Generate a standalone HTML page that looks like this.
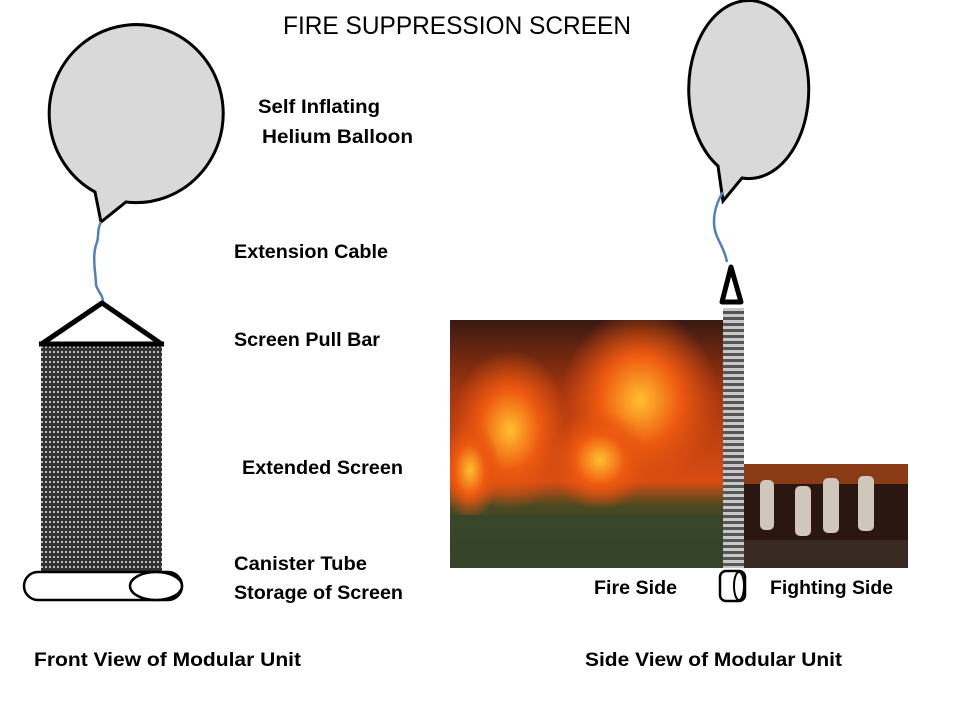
<!DOCTYPE html>
<html><head><meta charset="utf-8"><style>
html,body{margin:0;padding:0;background:#fff;width:960px;height:720px;overflow:hidden}
text{font-family:"Liberation Sans",sans-serif;font-weight:bold;fill:#000}
</style></head><body>
<svg width="960" height="720" viewBox="0 0 960 720" xmlns="http://www.w3.org/2000/svg">
<defs>
<pattern id="mesh" width="4" height="5" patternUnits="userSpaceOnUse">
<rect width="4" height="5" fill="#333"/><rect x="1" y="1" width="2" height="2" fill="#bbb"/>
</pattern>
<pattern id="mesh2" width="23" height="6" patternUnits="userSpaceOnUse">
<rect width="23" height="6" fill="#555"/><rect y="2" width="23" height="3" fill="#c8c8c8"/>
</pattern>
<radialGradient id="f1" cx="0.5" cy="0.5" r="0.5"><stop offset="0" stop-color="#ffc030"/><stop offset="0.5" stop-color="#ee5a10"/><stop offset="1" stop-color="#e05010" stop-opacity="0"/></radialGradient>
<linearGradient id="fg" x1="0" y1="0" x2="0" y2="1"><stop offset="0" stop-color="#3a1a12"/><stop offset="0.3" stop-color="#a8360f"/><stop offset="0.65" stop-color="#d84c12"/><stop offset="0.75" stop-color="#4a4a22"/><stop offset="1" stop-color="#2f3a22"/></linearGradient>
<clipPath id="fc"><rect x="450" y="320" width="273" height="248"/></clipPath>
</defs>

<text x="283" y="34" font-size="25" style="font-weight:normal" textLength="348" lengthAdjust="spacingAndGlyphs">FIRE SUPPRESSION SCREEN</text>

<path d="M95,192 A87,89 0 1 1 126,202 L101,222 Z" fill="#d9d9d9" stroke="#000" stroke-width="3"/>
<path d="M101,222 C96,232 100,236 96,245 C92,258 96,275 96,285 C98,292 104,296 103,304" fill="none" stroke="#4f81bd" stroke-width="2.5"/>
<path d="M40,345 L102,303 L163,345" fill="none" stroke="#000" stroke-width="5" stroke-linejoin="round"/>
<rect x="41" y="346" width="121" height="226" fill="url(#mesh)"/>
<line x1="39" y1="344" x2="164" y2="344" stroke="#000" stroke-width="5"/>
<rect x="24" y="572" width="158" height="28" rx="14" fill="#fff" stroke="#000" stroke-width="2.5"/>
<ellipse cx="156" cy="586" rx="26" ry="14" fill="#fff" stroke="#000" stroke-width="2.5"/>

<path d="M718,166 A60,89 0 1 1 742,178 L723,201 Z" fill="#d9d9d9" stroke="#000" stroke-width="3"/>
<path d="M723,192 C718,200 714,210 714,222 C714,238 724,245 727,262" fill="none" stroke="#4f81bd" stroke-width="2.5"/>

<g clip-path="url(#fc)">
<rect x="450" y="320" width="273" height="248" fill="url(#fg)"/>
<ellipse cx="510" cy="430" rx="60" ry="80" fill="url(#f1)"/>
<ellipse cx="640" cy="400" rx="80" ry="90" fill="url(#f1)"/>
<ellipse cx="600" cy="460" rx="50" ry="50" fill="url(#f1)"/>
<ellipse cx="470" cy="470" rx="30" ry="50" fill="url(#f1)"/>
<rect x="450" y="515" width="273" height="53" fill="#36472a" opacity="0.85"/>
</g>
<rect x="744" y="464" width="164" height="104" fill="#2a1810"/>
<rect x="744" y="464" width="164" height="20" fill="#8a3a14"/>
<rect x="744" y="540" width="164" height="28" fill="#3a2a24"/>
<g fill="#cfc6bc">
<rect x="760" y="480" width="14" height="50" rx="5"/><rect x="795" y="486" width="16" height="50" rx="5"/>
<rect x="823" y="478" width="16" height="55" rx="5"/><rect x="858" y="476" width="16" height="55" rx="5"/>
</g>

<rect x="723" y="308" width="21" height="260" fill="url(#mesh2)"/>
<path d="M722,302 L731,267 L741,302 Z" fill="#fff" stroke="#000" stroke-width="5" stroke-linejoin="round"/>
<rect x="720" y="571" width="25" height="30" rx="6" fill="#fff" stroke="#000" stroke-width="2.5"/>
<ellipse cx="739" cy="586" rx="5" ry="14" fill="#fff" stroke="#000" stroke-width="2"/>

<g font-size="19">
<text x="258" y="113" textLength="122" lengthAdjust="spacingAndGlyphs">Self Inflating</text>
<text x="262" y="143" textLength="151" lengthAdjust="spacingAndGlyphs">Helium Balloon</text>
<text x="234" y="258" textLength="154" lengthAdjust="spacingAndGlyphs">Extension Cable</text>
<text x="234" y="346" textLength="146" lengthAdjust="spacingAndGlyphs">Screen Pull Bar</text>
<text x="242" y="474" textLength="161" lengthAdjust="spacingAndGlyphs">Extended Screen</text>
<text x="234" y="570" textLength="133" lengthAdjust="spacingAndGlyphs">Canister Tube</text>
<text x="234" y="599" textLength="169" lengthAdjust="spacingAndGlyphs">Storage of Screen</text>
<text x="594" y="594" textLength="83" lengthAdjust="spacingAndGlyphs">Fire Side</text>
<text x="770" y="594" textLength="123" lengthAdjust="spacingAndGlyphs">Fighting Side</text>
<text x="34" y="666" textLength="267" lengthAdjust="spacingAndGlyphs">Front View of Modular Unit</text>
<text x="585" y="666" textLength="257" lengthAdjust="spacingAndGlyphs">Side View of Modular Unit</text>
</g>
</svg>
</body></html>
